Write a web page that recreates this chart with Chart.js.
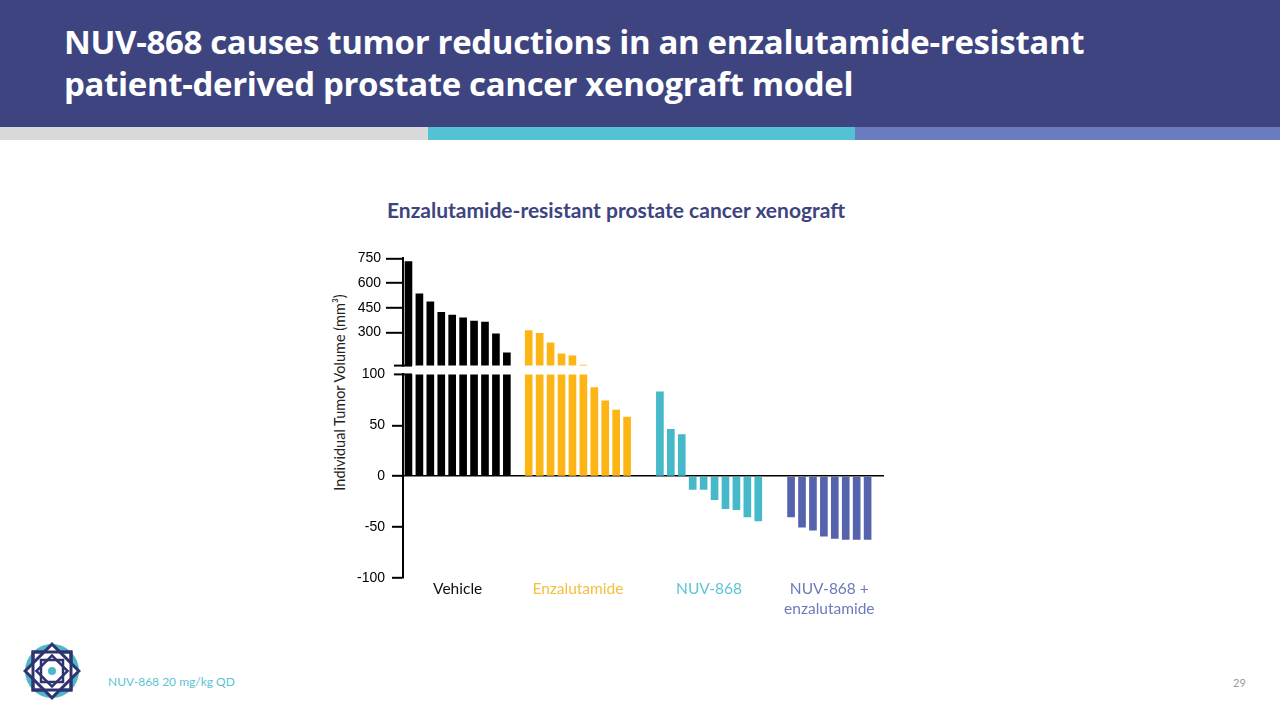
<!DOCTYPE html>
<html>
<head>
<meta charset="utf-8">
<script src="https://cdn.jsdelivr.net/npm/chart.js@4.4.1/dist/chart.umd.min.js"></script>
<style>
  body { margin: 0; width: 1280px; height: 720px; overflow: hidden; background: #fff; position: relative; font-family: Lato, "Open Sans", sans-serif; }
  .header { position: absolute; left: 0; top: 0; width: 1280px; height: 127px; background: #3D4480; }
  .header h1 { position: absolute; left: 64px; top: 21px; margin: 0; color: #fff; font: bold 33px "Open Sans", sans-serif; line-height: 42px; letter-spacing: -0.35px; white-space: nowrap; }
  .stripe { position: absolute; top: 127px; height: 13px; }
  .title { position: absolute; left: 0; width: 1232px; top: 197px; text-align: center; color: #3D4480; font: bold 21px Lato, sans-serif; }
  .ytitle { position: absolute; left: 229px; top: 384px; width: 220px; text-align: center; transform: rotate(-90deg); font: 14.5px Lato, sans-serif; color: #222; }
  canvas { position: absolute; }
  .foot { position: absolute; left: 108px; top: 674px; color: #5BC3D3; font: 12px Lato, sans-serif; }
  .page { position: absolute; left: 1233px; top: 676px; color: #9a9a9a; font: 11px Lato, sans-serif; }
</style>
</head>
<body>
<div class="header"><h1>NUV-868 causes tumor reductions in an enzalutamide-resistant<br>patient-derived prostate cancer xenograft model</h1></div>
<div class="stripe" style="left:0;width:428px;background:#D9D9D9"></div>
<div class="stripe" style="left:428px;width:427px;background:#52C2D4"></div>
<div class="stripe" style="left:855px;width:425px;background:#6A7CC0"></div>
<div class="title">Enzalutamide-resistant prostate cancer xenograft</div>
<div class="ytitle">Individual Tumor Volume (mm³)</div>
<div style="position:absolute;left:320px;top:245px;width:570px;height:134px"><canvas id="topChart"></canvas></div>
<div style="position:absolute;left:320px;top:359px;width:570px;height:269px"><canvas id="bottomChart"></canvas></div>
<svg style="position:absolute;left:22px;top:641px" width="60" height="60" viewBox="-30 -30 60 60">
  <circle r="27" fill="#4FB7C8"/>
  <rect x="-19" y="-19" width="38" height="38" fill="#fff" stroke="#2E3470" stroke-width="3"/>
  <rect x="-19" y="-19" width="38" height="38" fill="#fff" stroke="#2E3470" stroke-width="3" transform="rotate(45)"/>
  <rect x="-19" y="-19" width="38" height="38" fill="none" stroke="#2E3470" stroke-width="3"/>
  <rect x="-11" y="-11" width="22" height="22" fill="none" stroke="#2E3470" stroke-width="2.5"/>
  <rect x="-11" y="-11" width="22" height="22" fill="none" stroke="#2E3470" stroke-width="2.5" transform="rotate(45)"/>
  <circle r="4" fill="#4FB7C8"/>
</svg>
<div class="foot">NUV-868 20 mg/kg QD</div>
<div class="page">29</div>
<script>
// group values read from the waterfall (mm³)
const groupNames = ['Vehicle', 'Enzalutamide', 'NUV-868', ['NUV-868 +', 'enzalutamide']];
const vehicle = [730, 535, 487, 423, 407, 390, 370, 364, 292, 177];
const enzalutamide = [313, 295, 238, 171, 159, 103, 87, 74, 65, 58];
const nuv868 = [83, 46, 41, -13, -13, -23, -32, -33, -40, -44];
const combination = [-40, -50, -53, -59, -61, -62, -62, -62];
const gapsBefore = [0, 1, 2, 2];
const gapAfter = 1;
const barColors = ['#000000', '#FDB515', '#45B9C9', '#5563AC'];
const labelColors = ['#111111', '#F5BE3C', '#5CC4D4', '#6C7AB9'];
const topTicks = [300, 450, 600, 750];
const bottomTicks = [-100, -50, 0, 50, 100];

const groups = [vehicle, enzalutamide, nuv868, combination];
const slots = [], values = [], colors = [], ranges = [];
groups.forEach((g, gi) => {
  for (let k = 0; k < gapsBefore[gi]; k++) { slots.push('gap' + slots.length); values.push(null); colors.push('#fff'); }
  const first = slots.length;
  g.forEach((v, i) => { slots.push(gi + '-' + i); values.push(v); colors.push(barColors[gi]); });
  ranges.push([first, slots.length - 1]);
});
for (let k = 0; k < gapAfter; k++) { slots.push('gap' + slots.length); values.push(null); colors.push('#fff'); }

const tickFont = { family: '"Liberation Sans", Arial, sans-serif', size: 14 };

function yAxis(min, max, ticks, tickLen, pad) {
  return {
    min: min, max: max,
    afterFit: s => { s.width = 83; },
    afterBuildTicks: s => { s.ticks = ticks.map(v => ({ value: v })); },
    border: { display: true, color: '#000', width: 2 },
    grid: {
      drawOnChartArea: true,
      color: c => (c.tick && c.tick.value === 0) ? '#000' : 'rgba(0,0,0,0)',
      lineWidth: 1.6,
      tickColor: c => (c.tick && c.tick.value === 100) ? 'rgba(0,0,0,0)' : '#000',
      tickWidth: 2,
      tickLength: tickLen
    },
    ticks: { color: '#000', font: tickFont, padding: pad }
  };
}

// short horizontal marks at the axis break
const breakMarks = {
  id: 'breakMarks',
  afterDraw(chart, args, opts) {
    const ctx = chart.ctx, a = chart.chartArea;
    const y = opts.value === 'bottom' ? a.bottom : chart.scales.y.getPixelForValue(opts.value);
    ctx.save();
    ctx.strokeStyle = '#000';
    ctx.lineWidth = 2;
    ctx.beginPath();
    ctx.moveTo(a.left - 9, y);
    ctx.lineTo(a.left + 9, y);
    ctx.stroke();
    ctx.restore();
  }
};

const groupLabels = {
  id: 'groupLabels',
  afterDraw(chart) {
    const ctx = chart.ctx, x = chart.scales.x, a = chart.chartArea;
    ctx.save();
    ctx.font = '15.5px Lato, sans-serif';
    ctx.textAlign = 'center';
    ctx.textBaseline = 'middle';
    ranges.forEach((r, gi) => {
      const cx = (x.getPixelForValue(r[0]) + x.getPixelForValue(r[1])) / 2;
      const lines = [].concat(groupNames[gi]);
      ctx.fillStyle = labelColors[gi];
      lines.forEach((t, li) => ctx.fillText(t, cx, a.bottom + 11 + li * 20));
    });
    ctx.restore();
  }
};

function makeChart(id, min, max, ticks, tickLen, pad, padBottom, breakAt, extra) {
  return new Chart(document.getElementById(id), {
    type: 'bar',
    data: { labels: slots, datasets: [{ data: values, backgroundColor: colors, barThickness: 7, borderWidth: 0 }] },
    options: {
      responsive: true, maintainAspectRatio: false, animation: false,
      layout: { padding: { top: 10, bottom: padBottom, left: 0, right: 6 } },
      plugins: { legend: { display: false }, tooltip: { enabled: false }, breakMarks: { value: breakAt } },
      scales: {
        x: { type: 'category', offset: true, display: false },
        y: yAxis(min, max, ticks, tickLen, pad)
      }
    },
    plugins: [breakMarks].concat(extra)
  });
}

makeChart('topChart', 100, 750, topTicks, 17, 5, 10, 'bottom', []);
makeChart('bottomChart', -100, 100, bottomTicks, 11, 7, 50, 100, [groupLabels]);
</script>
</body>
</html>
